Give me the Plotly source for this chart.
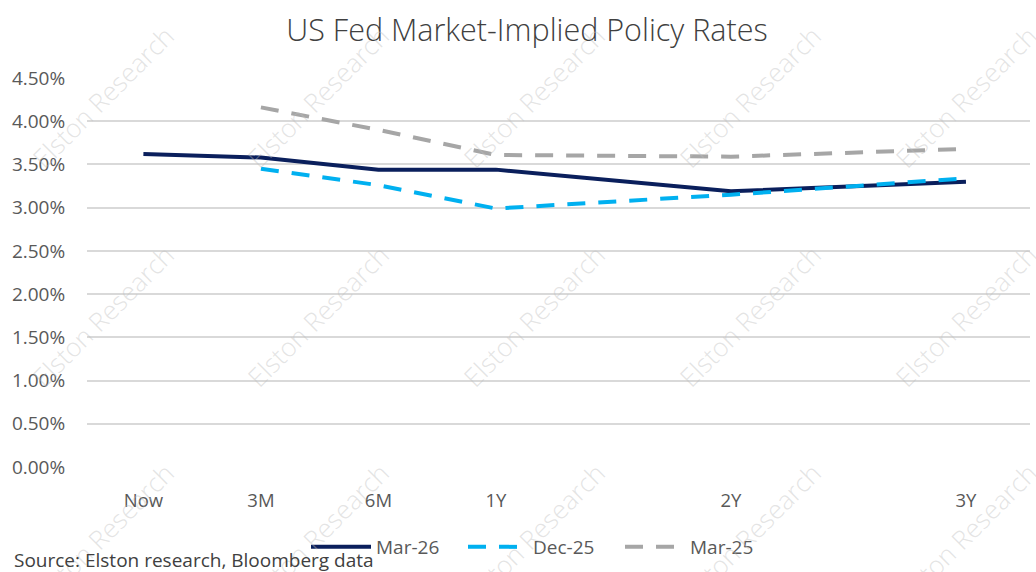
import plotly.graph_objects as go

# ---- data ----
tenors = ["Now", "3M", "6M", "1Y", "2Y", "3Y"]
tenor_pos = [0, 1, 2, 3, 5, 7]
mar26 = [3.62, 3.58, 3.44, 3.44, 3.19, 3.30]
dec25 = [None, 3.45, 3.26, 2.99, 3.15, 3.34]
mar25 = [None, 4.16, 3.90, 3.61, 3.59, 3.68]
y_ticks = [0.0, 0.5, 1.0, 1.5, 2.0, 2.5, 3.0, 3.5, 4.0, 4.5]

W, H = 1036, 572
L, R, T, B = 87, 6, 78, 105
PW, PH = W - L - R, H - T - B

def px(x, y):
    return (x - L) / PW, (H - B - y) / PH

fig = go.Figure()
fig.add_trace(go.Scatter(x=tenor_pos, y=mar26, name="Mar-26", mode="lines",
                         line=dict(color="#0A1F5C", width=4)))
fig.add_trace(go.Scatter(x=tenor_pos, y=dec25, name="Dec-25", mode="lines",
                         line=dict(color="#00B0F0", width=4, dash="18px,13px")))
fig.add_trace(go.Scatter(x=tenor_pos, y=mar25, name="Mar-25", mode="lines",
                         line=dict(color="#A6A6A6", width=4, dash="18px,13px")))

font_fam = "Open Sans, Noto Sans, sans-serif"

annotations = []
# watermark
for cy in [97, 316, 534]:
    for cx in [103, 318, 534, 750, 966]:
        xp, yp = px(cx, cy)
        annotations.append(dict(text="Elston Research", x=xp, y=yp, xref="paper", yref="paper",
                                xanchor="center", yanchor="middle",
                                showarrow=False, textangle=-45,
                                font=dict(family=font_fam, size=26, color="rgba(190,190,190,0.42)",
                                          weight=300)))
sx, sy = px(12, 560)
annotations.append(dict(text="Source: Elston research, Bloomberg data", x=sx, y=sy,
                        xref="paper", yref="paper", xanchor="left", yanchor="middle",
                        showarrow=False, font=dict(family=font_fam, size=19, color="#404040")))

lx, ly = px(306, 547)
fig.update_layout(
    width=W, height=H,
    margin=dict(l=L, r=R, t=T, b=B),
    plot_bgcolor="white", paper_bgcolor="white",
    title=dict(text="US Fed Market-Implied Policy Rates", x=527 / W,
               xanchor="center", y=1 - 30 / H, yanchor="middle",
               font=dict(family=font_fam, size=30.5, color="#404040", weight=300)),
    xaxis=dict(range=[-0.48, 7.545], tickvals=tenor_pos, ticktext=tenors,
               showgrid=False, zeroline=False, showline=False, automargin=False,
               ticks="outside", ticklen=17, tickcolor="rgba(0,0,0,0)",
               tickfont=dict(family=font_fam, size=18.5, color="#595959")),
    yaxis=dict(range=[0, 4.5], tickvals=y_ticks,
               ticktext=[f"{v:.2f}%" for v in y_ticks],
               showgrid=True, gridcolor="#D9D9D9", gridwidth=1.5,
               zeroline=False, showline=False, automargin=False,
               ticks="outside", ticklen=17, tickcolor="rgba(0,0,0,0)",
               tickfont=dict(family=font_fam, size=19, color="#595959")),
    legend=dict(orientation="h", x=lx, y=ly, xanchor="left", yanchor="middle",
                font=dict(family=font_fam, size=19, color="#595959"),
                bgcolor="rgba(0,0,0,0)", itemwidth=60,
                entrywidth=82, entrywidthmode="pixels"),
    annotations=annotations,
    showlegend=True,
)

fig.write_html("out.html", config={"displayModeBar": False},
               post_script="document.body.style.margin='0';document.body.style.overflow='hidden';")
